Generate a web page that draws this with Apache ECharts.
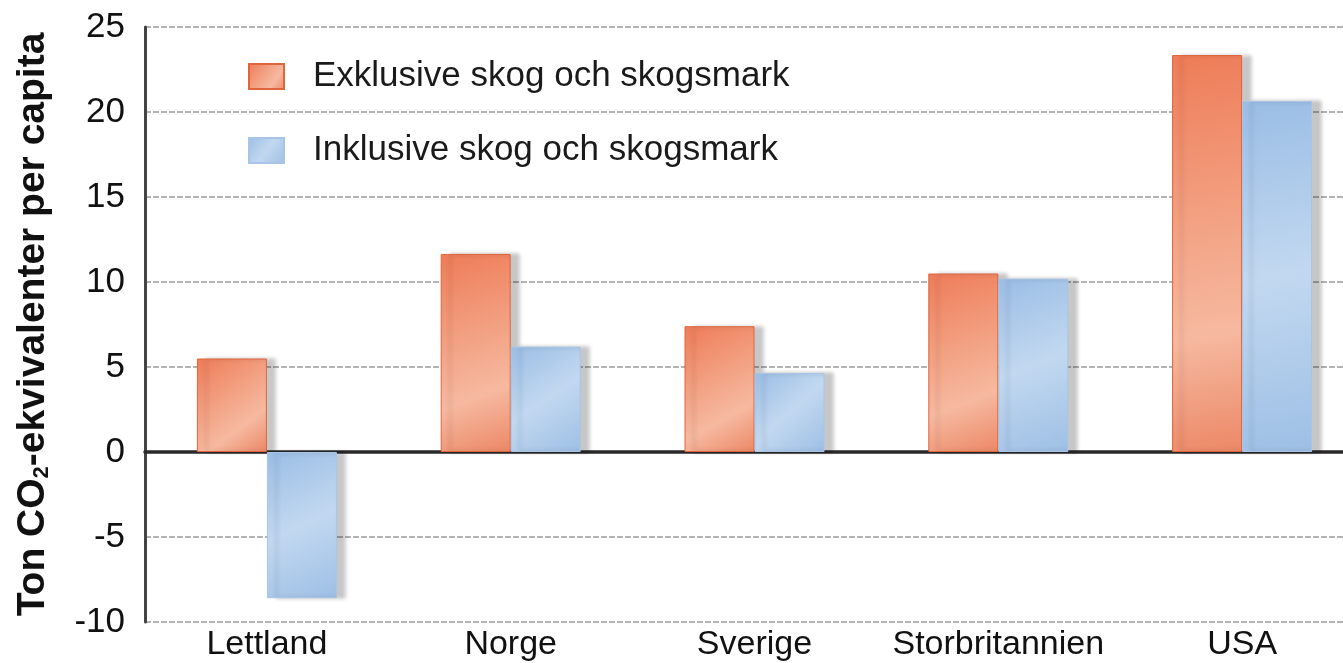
<!DOCTYPE html>
<html>
<head>
<meta charset="utf-8">
<script src="https://cdn.jsdelivr.net/npm/echarts@6/dist/echarts.min.js"></script>
<style>
  html, body { margin: 0; padding: 0; background: #fff; }
  #chart { width: 1343px; height: 663px; }
</style>
</head>
<body>
<div id="chart"></div>
<script>
const countries = ['Lettland', 'Norge', 'Sverige', 'Storbritannien', 'USA']
const exklusive = [5.5, 11.65, 7.4, 10.5, 23.35]
const inklusive = [-8.6, 6.2, 4.65, 10.2, 20.65]
const seriesNames = ['Exklusive skog och skogsmark', 'Inklusive skog och skogsmark']

const font = 'Liberation Sans, Arial, sans-serif'

// watercolour-ish fills
const orangeFill = new echarts.graphic.LinearGradient(0, 0, 1, 1, [
  { offset: 0, color: '#ee7c58' },
  { offset: 0.45, color: '#f3a486' },
  { offset: 0.7, color: '#f6b9a0' },
  { offset: 1, color: '#ec8866' }
])
const blueFill = new echarts.graphic.LinearGradient(0, 0, 1, 1, [
  { offset: 0, color: '#9abde5' },
  { offset: 0.5, color: '#c2d8f0' },
  { offset: 1, color: '#9dbfe5' }
])

const barShadow = {
  shadowColor: 'rgba(0,0,0,0.22)',
  shadowBlur: 4,
  shadowOffsetX: 9,
  shadowOffsetY: 0
}

const chart = echarts.init(document.getElementById('chart'))

chart.setOption({
  animation: false,
  textStyle: { fontFamily: font },
  grid: { left: 145, top: 27, bottom: 41, width: 1219, outerBoundsMode: 'none', containLabel: false },
  legend: {
    orient: 'vertical',
    left: 243,
    top: 54,
    icon: 'rect',
    itemWidth: 35,
    itemHeight: 25,
    itemGap: 39,
    data: seriesNames,
    textStyle: { fontSize: 35, color: '#1a1a1a', fontFamily: font, padding: [0, 0, 0, 24] }
  },
  xAxis: {
    type: 'category',
    data: countries,
    axisTick: { show: false },
    axisLine: { onZero: true, lineStyle: { color: '#2a2a2a', width: 3.5 } },
    axisLabel: {
      interval: 0,
      fontSize: 34,
      color: '#111',
      margin: 6
    }
  },
  yAxis: {
    type: 'value',
    min: -10,
    max: 25,
    interval: 5,
    name: 'Ton CO{sub|2}-ekvivalenter per capita',
    nameLocation: 'middle',
    nameGap: 92,
    nameTextStyle: {
      fontSize: 39,
      fontWeight: 'bold',
      color: '#111',
      rich: {
        sub: { fontSize: 22, fontWeight: 'bold', color: '#111', verticalAlign: 'bottom', padding: [18, 0, 0, 0] }
      }
    },
    axisLine: { show: true, lineStyle: { color: '#444', width: 3 } },
    axisTick: { show: false },
    axisLabel: { fontSize: 35, color: '#111', margin: 20 },
    splitLine: { lineStyle: { color: '#9a9a9a', width: 1.5, type: [6, 2] } }
  },
  series: [
    {
      name: seriesNames[0],
      type: 'bar',
      data: exklusive,
      barWidth: 70,
      barGap: '0%',
      itemStyle: Object.assign({ color: orangeFill, borderColor: '#e0643c', borderWidth: 1 }, barShadow)
    },
    {
      name: seriesNames[1],
      type: 'bar',
      data: inklusive,
      barWidth: 70,
      itemStyle: Object.assign({ color: blueFill, borderColor: '#a9c5e6', borderWidth: 1 }, barShadow)
    }
  ]
})
</script>
</body>
</html>
